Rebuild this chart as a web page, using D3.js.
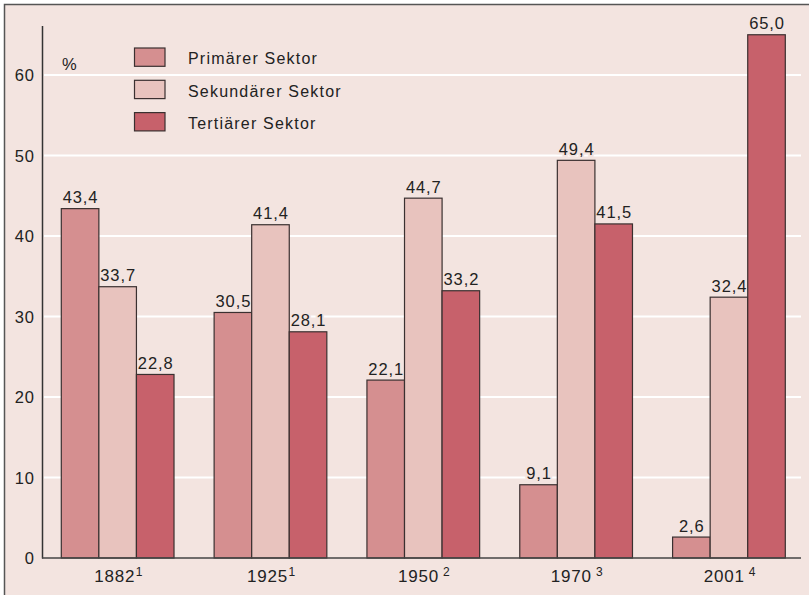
<!DOCTYPE html>
<html>
<head>
<meta charset="utf-8">
<script src="https://cdn.jsdelivr.net/npm/d3@7"></script>
<style>
  html, body { margin: 0; padding: 0; background: #ffffff; }
  svg { display: block; }
  text { font-family: "Liberation Sans", Arial, Helvetica, sans-serif; fill: #222; }
</style>
</head>
<body>
<svg id="chart" width="809" height="595"></svg>
<script>
// ---- data ----
const years = ["1882", "1925", "1950", "1970", "2001"];
const footnotes = ["1", "1", "2", "3", "4"];
const seriesNames = ["Primärer Sektor", "Sekundärer Sektor", "Tertiärer Sektor"];
const primary = [43.4, 30.5, 22.1, 9.1, 2.6];
const secondary = [33.7, 41.4, 44.7, 49.4, 32.4];
const tertiary = [22.8, 28.1, 33.2, 41.5, 65.0];
const yTicks = [0, 10, 20, 30, 40, 50, 60];
const unitLabel = "%";

// ---- styling ----
const colors = ["#d58f90", "#e8c3be", "#c7616b"];
const bg = "#f3e4e0";
const series = [primary, secondary, tertiary];

const svg = d3.select("#chart");
svg.append("rect").attr("x", 4.5).attr("y", 4.5).attr("width", 820).attr("height", 620)
  .attr("fill", bg).attr("stroke", "#555").attr("stroke-width", 1.5);

const x0 = d3.scaleBand().domain(years).range([61.3, 785.3]).paddingInner(0.2625).paddingOuter(0);
const x1 = d3.scaleBand().domain(d3.range(3)).range([0, x0.bandwidth()]).padding(0);
const y = d3.scaleLinear().domain([0, 60]).range([558, 75]);

const fmt = v => d3.format(".1f")(v).replace(".", ",");

// gridlines
svg.append("g").selectAll("line").data(yTicks.filter(t => t > 0)).join("line")
  .attr("x1", 44).attr("x2", 801)
  .attr("y1", d => y(d)).attr("y2", d => y(d))
  .attr("stroke", "#ffffff").attr("stroke-width", 2);

// y axis ticks
const yAxis = d3.axisLeft(y).tickValues(yTicks).tickSize(0).tickPadding(7.5).tickFormat(d3.format("d"));
const gy = svg.append("g").attr("transform", "translate(42.5,0)").call(yAxis);
gy.select(".domain").remove();
gy.selectAll("text").attr("font-size", "16.5px").attr("letter-spacing", "1px")
  .attr("fill", "#222").attr("dy", "0.36em")
  .style("font-family", '"Liberation Sans", Arial, sans-serif');

const flat = [];
years.forEach((yr, i) => series.forEach((s, k) => flat.push({ yr, k, v: s[i] })));

// value labels (halo breaks the gridlines as in the original), drawn before bars
svg.append("g").selectAll("text").data(flat).join("text")
  .attr("x", d => x0(d.yr) + x1(d.k) + x1.bandwidth() / 2 + 0.5)
  .attr("y", d => y(d.v) - 5.5)
  .attr("text-anchor", "middle")
  .attr("font-size", "16.5px").attr("letter-spacing", "0.9px")
  .attr("stroke", bg).attr("stroke-width", 4).attr("paint-order", "stroke")
  .text(d => fmt(d.v));

// bars
svg.append("g").selectAll("rect").data(flat).join("rect")
  .attr("x", d => x0(d.yr) + x1(d.k)).attr("width", x1.bandwidth())
  .attr("y", d => y(d.v)).attr("height", d => y(0) - y(d.v))
  .attr("fill", d => colors[d.k]).attr("stroke", "#3a3030").attr("stroke-width", 1.2);

// axis lines
svg.append("line").attr("x1", 42.5).attr("x2", 42.5).attr("y1", 26).attr("y2", 558.5)
  .attr("stroke", "#333").attr("stroke-width", 1.5);
svg.append("line").attr("x1", 42).attr("x2", 801).attr("y1", 558).attr("y2", 558)
  .attr("stroke", "#444").attr("stroke-width", 1.5);

// x labels with footnote superscripts
const xl = svg.append("g").selectAll("text").data(years).join("text")
  .attr("x", d => x0(d) + x0.bandwidth() / 2 + 1)
  .attr("y", 582)
  .attr("text-anchor", "middle")
  .attr("font-size", "17px").attr("letter-spacing", "0.8px");
xl.append("tspan").text(d => d);
xl.append("tspan").attr("font-size", "12px").attr("dy", -6)
  .attr("dx", (d, i) => i < 2 ? 0.5 : 4)
  .text((d, i) => footnotes[i]);

// unit label
svg.append("text").attr("x", 62).attr("y", 70).attr("font-size", "16.5px").text(unitLabel);

// legend
const lg = svg.append("g").selectAll("g").data(seriesNames).join("g")
  .attr("transform", (d, i) => `translate(134.5,${48 + i * 32.3})`);
lg.append("rect").attr("width", 30.5).attr("height", 18.3)
  .attr("fill", (d, i) => colors[i]).attr("stroke", "#3a3030").attr("stroke-width", 1.2);
lg.append("text").attr("x", 53.5).attr("y", 16.3).attr("font-size", "16px")
  .attr("letter-spacing", "1.2px").text(d => d);
</script>
</body>
</html>
